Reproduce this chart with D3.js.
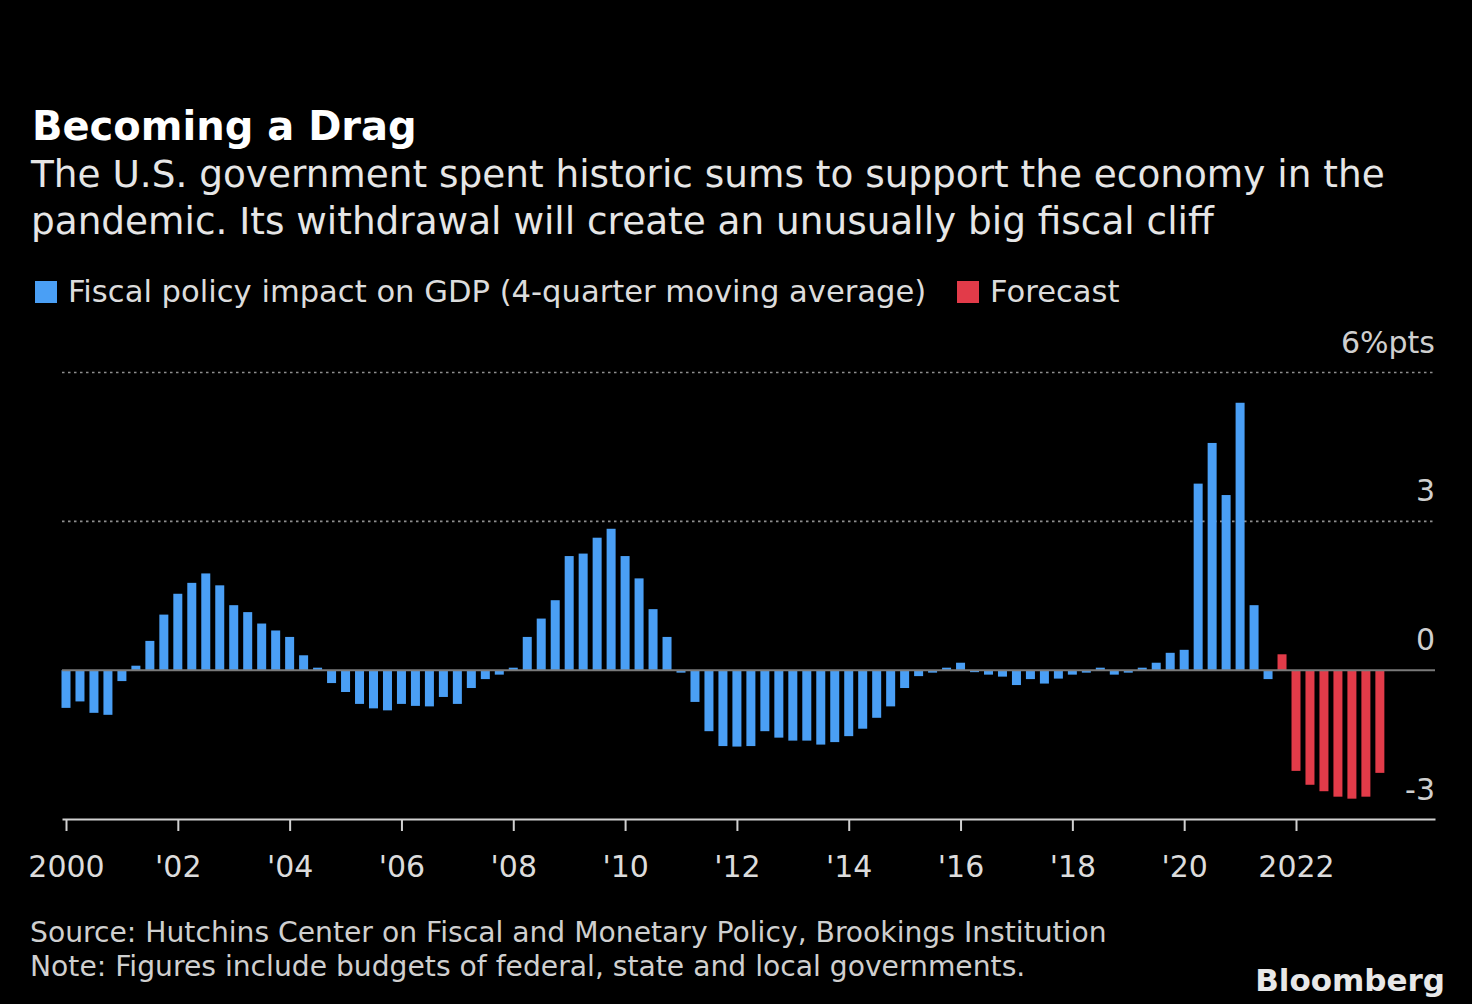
<!DOCTYPE html>
<html lang="en">
<head>
  <meta charset="UTF-8">
  <title>Becoming a Drag</title>
  <style>
    html, body { margin: 0; padding: 0; background: #000; }
    svg { display: block; font-family: "DejaVu Sans", sans-serif; }
  </style>
</head>
<body>
<svg width="1472" height="1004"></svg>

<script src="https://cdn.jsdelivr.net/npm/d3@7"></script>
<script>
  // quarterly data, first bar = 2000 Q1
  var startYear = 2000;
  var actual = [
    -0.76, -0.63, -0.86, -0.90, -0.22, 0.09, 0.59, 1.12,
    1.54, 1.76, 1.95, 1.71, 1.31, 1.17, 0.94, 0.80,
    0.67, 0.30, 0.05, -0.26, -0.44, -0.68, -0.77, -0.81,
    -0.68, -0.72, -0.73, -0.54, -0.68, -0.36, -0.18, -0.09,
    0.05, 0.67, 1.04, 1.41, 2.30, 2.35, 2.67, 2.85,
    2.30, 1.85, 1.23, 0.67, -0.05, -0.64, -1.23, -1.53,
    -1.54, -1.53, -1.23, -1.36, -1.42, -1.42, -1.50, -1.45,
    -1.33, -1.18, -0.96, -0.73, -0.36, -0.12, -0.05, 0.05,
    0.15, -0.04, -0.09, -0.13, -0.30, -0.18, -0.27, -0.17,
    -0.09, -0.05, 0.05, -0.09, -0.05, 0.05, 0.15, 0.35,
    0.41, 3.76, 4.58, 3.53, 5.39, 1.31, -0.18
  ];
  // forecast continues right after the last actual quarter (2021 Q4 onwards)
  var forecast = [0.32, -2.03, -2.31, -2.44, -2.55, -2.59, -2.55, -2.07];

  var yearTicks = d3.range(2000, 2023, 2);
  var yTicks = [-3, 0, 3, 6];
  var legendLabels = ['Fiscal policy impact on GDP (4-quarter moving average)', 'Forecast'];
  var colors = ['#4a9ff5', '#e23b49'];

  var svg = d3.select('svg');
  var plotLeft = 62, plotRight = 1435, plotTop = 372.5, plotBottom = 819;
  var pxPerYear = (1296 - 66) / 22;

  var bars = actual.map(function (v, i) { return {t: startYear + i / 4, v: v, f: 0}; })
    .concat(forecast.map(function (v, i) { return {t: startYear + (actual.length + i) / 4, v: v, f: 1}; }));

  var x = d3.scaleLinear()
    .domain([2000 - (66 - plotLeft) / pxPerYear, 2000 + (plotRight - 66) / pxPerYear])
    .range([plotLeft, plotRight]);
  var y = d3.scaleLinear().domain([-3, 6]).range([plotBottom, plotTop]);

  // titles
  svg.append('text').attr('x', 32).attr('y', 140).attr('fill', '#fff')
    .attr('font-weight', 'bold').attr('font-size', 40).text('Becoming a Drag');
  var sub = ['The U.S. government spent historic sums to support the economy in the',
             'pandemic. Its withdrawal will create an unusually big fiscal cliff'];
  svg.selectAll('.sub').data(sub).enter().append('text')
    .attr('x', 31).attr('y', function (d, i) { return 187 + i * 47; })
    .attr('fill', '#e6e6e6').attr('font-size', 37.4).text(function (d) { return d; });

  // legend
  var lg = svg.append('g');
  var lx = [35, 957];
  legendLabels.forEach(function (d, i) {
    lg.append('rect').attr('x', lx[i]).attr('y', 281).attr('width', 22).attr('height', 22).attr('fill', colors[i]);
    lg.append('text').attr('x', lx[i] + 33).attr('y', 302).attr('fill', '#dcdcdc')
      .attr('font-size', 30.6).text(d);
  });

  // gridlines
  svg.selectAll('.grid').data(yTicks.filter(function (d) { return d > 0; })).enter().append('line')
    .attr('x1', plotLeft).attr('x2', plotRight)
    .attr('y1', function (d) { return y(d); }).attr('y2', function (d) { return y(d); })
    .attr('stroke', '#8f8f8f').attr('stroke-width', 1.6).attr('stroke-dasharray', '2.5,3.5');

  // y labels
  svg.selectAll('.ylab').data(yTicks).enter().append('text')
    .attr('x', plotRight).attr('y', function (d) { return y(d) - (d === -3 ? 19 : 20); })
    .attr('text-anchor', 'end').attr('fill', '#cfcfcf').attr('font-size', 30)
    .text(function (d) { return d === 6 ? '6%pts' : d; });

  // bars
  var bw = 9;
  svg.append('g').selectAll('rect').data(bars).enter().append('rect')
    .attr('x', function (d) { return x(d.t) - bw / 2; })
    .attr('width', bw)
    .attr('y', function (d) { return y(Math.max(0, d.v)); })
    .attr('height', function (d) { return Math.abs(y(d.v) - y(0)); })
    .attr('fill', function (d) { return colors[d.f]; });

  // zero line
  svg.append('line').attr('x1', plotLeft).attr('x2', plotRight).attr('y1', y(0)).attr('y2', y(0))
    .attr('stroke', '#7a7a7a').attr('stroke-width', 2);

  // x axis
  var xAxis = d3.axisBottom(x).tickValues(yearTicks).tickSize(12).tickSizeOuter(0)
    .tickFormat(function (d) { return (d === 2000 || d === 2022) ? String(d) : "'" + String(d).slice(2); });
  var gx = svg.append('g').attr('transform', 'translate(0,' + plotBottom + ')').call(xAxis);
  gx.select('.domain').attr('stroke', '#d0d0d0').attr('stroke-width', 2);
  gx.selectAll('.tick line').attr('stroke', '#d0d0d0').attr('stroke-width', 2);
  gx.selectAll('.tick text').attr('fill', '#dcdcdc').attr('font-size', 30)
    .attr('font-family', '"DejaVu Sans", sans-serif').attr('dy', 0).attr('y', 58);

  // footnotes
  var notes = ['Source: Hutchins Center on Fiscal and Monetary Policy, Brookings Institution',
               'Note: Figures include budgets of federal, state and local governments.'];
  svg.selectAll('.note').data(notes).enter().append('text')
    .attr('x', 30).attr('y', function (d, i) { return 942 + i * 34; })
    .attr('fill', '#cfcfcf').attr('font-size', 28.2).text(function (d) { return d; });

  svg.append('text').attr('x', 1445).attr('y', 991).attr('text-anchor', 'end')
    .attr('fill', '#e8e8e8').attr('font-weight', 'bold').attr('font-size', 31).text('Bloomberg');
</script>
</body>
</html>
